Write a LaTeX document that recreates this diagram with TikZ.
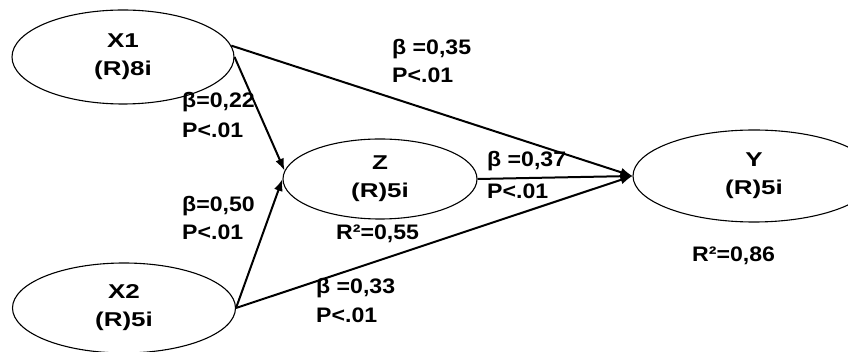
\documentclass[tikz,border=0pt]{standalone}
\usepackage{fontspec}
\setmainfont{Liberation Sans}[FakeStretch=1.1]
\newfontfamily\ellfont{Liberation Sans}[FakeStretch=1.3]
\usetikzlibrary{shapes.geometric,arrows.meta}

\begin{document}
\begin{tikzpicture}[
    x=1pt, y=-1pt,
    latent/.style={ellipse, draw, line width=1.1pt, inner sep=0pt, align=center,
        font=\ellfont\bfseries\fontsize{20}{28}\selectfont},
    coef/.style={anchor=base west, inner sep=0pt,
        font=\bfseries\fontsize{21}{25}\selectfont},
    effect/.style={line width=2pt, -{Latex[length=12pt,width=9pt]}}
]
\clip (0,0) rectangle (848,352);
\fill[white] (0,0) rectangle (848,352);

% constructs
\node[latent, minimum width=222pt, minimum height=94pt] (X1) at (123,57) {X1\\(R)8i};
\node[latent, minimum width=223pt, minimum height=90pt] (X2) at (124,308) {X2\\(R)5i};
\node[latent, minimum width=194pt, minimum height=80pt] (Z) at (380,179) {Z\\(R)5i};
\node[latent, minimum width=242pt, minimum height=92pt] (Y) at (754,176) {Y\\(R)5i};

% paths
\draw[effect] (X1.6) -- (Y.west);
\draw[effect] (X1.east) -- (Z.175);
\draw[effect] (X2.east) -- (Z.west);
\draw[effect] (X2.east) -- (Y.west);
\draw[effect] (Z.east) -- (Y.west);

% coefficients
\node[coef] (b1) at (392,55) {β =0,35};
\node[coef] (p1) at (392,83) {P<.01};
\node[coef] (b2) at (182,108) {β=0,22};
\node[coef] (p2) at (182,138) {P<.01};
\node[coef] (b3) at (182,212) {β=0,50};
\node[coef] (p3) at (182,240) {P<.01};
\node[coef] (r1) at (336,240) {R²=0,55};
\node[coef] (b4) at (487,167) {β =0,37};
\node[coef] (p4) at (487,199) {P<.01};
\node[coef] (r2) at (692,262) {R²=0,86};
\node[coef] (b5) at (316,294) {β =0,33};
\node[coef] (p5) at (316,323) {P<.01};

\end{tikzpicture}
\end{document}
